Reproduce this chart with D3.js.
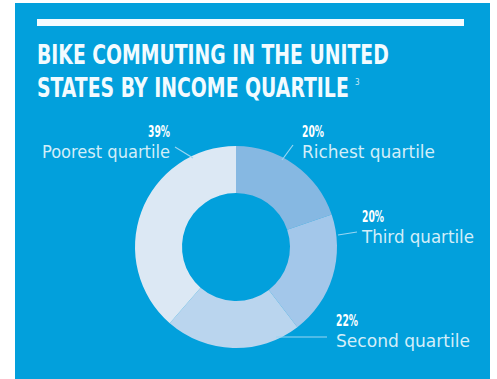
<!DOCTYPE html>
<html>
<head>
<meta charset="utf-8">
<script src="https://cdn.jsdelivr.net/npm/d3@7"></script>
<style>
    body { margin: 0; background: #fff; }
    svg text { font-family: "DejaVu Sans Condensed", "Liberation Sans Narrow", sans-serif; }
</style>
</head>
<body>
<svg id="chart" width="497" height="379"></svg>
<script>
// data
const quartiles = ["Richest quartile", "Third quartile", "Second quartile", "Poorest quartile"];
const shares = [20, 20, 22, 39];
const sliceColors = ["#86b8e2", "#a3c7ea", "#bad5ee", "#dce8f4"];
const titleLines = ["BIKE COMMUTING IN THE UNITED", "STATES BY INCOME QUARTILE"];
const footnote = "3";

// label layout (leader line + text anchor), same order as quartiles
const labelLayout = [
    { line: [[282, 160], [293, 145]], x: 302, anchor: "start", nameY: 158, nameW: 133 },
    { line: [[338, 235], [357, 232]], x: 362, anchor: "start", nameY: 243, nameW: 112 },
    { line: [[276, 337], [327, 337]], x: 336, anchor: "start", nameY: 347, nameW: 134 },
    { line: [[193, 158], [175, 147]], x: 170, anchor: "end", nameY: 158, nameW: 128 }
];

const svg = d3.select("#chart");
const cx = 236, cy = 247, outerR = 101, innerR = 54;

// blue panel
svg.append("rect")
    .attr("x", 15).attr("y", 3)
    .attr("width", 475).attr("height", 376)
    .attr("fill", "#02a0dc");

// white rule above the title
svg.append("rect")
    .attr("x", 37).attr("y", 19)
    .attr("width", 427).attr("height", 7)
    .attr("fill", "#f4fbff");

// title: squeeze each line horizontally to the reference width
const titleY = [64, 97];
const titleW = [352, 312];
titleLines.forEach((t, i) => {
    const txt = svg.append("text")
        .attr("font-size", 26)
        .attr("font-weight", "bold")
        .attr("fill", "#f2fbff")
        .text(t);
    const natural = txt.node().getComputedTextLength();
    txt.attr("transform", `translate(37,${titleY[i]}) scale(${titleW[i] / natural},1)`);
});
svg.append("text")
    .attr("x", 37 + titleW[1] + 6)
    .attr("y", 85)
    .attr("font-size", 8)
    .attr("fill", "#cdeaf7")
    .text(footnote);

// donut
const pie = d3.pie().sort(null).value(d => d);
const arc = d3.arc().innerRadius(innerR).outerRadius(outerR);

const g = svg.append("g").attr("transform", `translate(${cx},${cy})`);
g.selectAll(".slice")
    .data(pie(shares))
    .enter().append("path")
    .attr("class", "slice")
    .attr("d", arc)
    .attr("fill", (d, i) => sliceColors[i]);

// labels: percentage line + name line in one text
labelLayout.forEach((l, i) => {
    svg.append("path")
        .attr("d", d3.line()(l.line))
        .attr("stroke", "#9ad6f2")
        .attr("stroke-width", 1.2)
        .attr("fill", "none");

    const txt = svg.append("text")
        .attr("x", l.x)
        .attr("y", l.nameY - 21)
        .attr("text-anchor", l.anchor);

    txt.append("tspan")
        .attr("x", l.x)
        .attr("font-size", 15)
        .attr("font-weight", "bold")
        .attr("fill", "#ffffff")
        .attr("textLength", 22)
        .attr("lengthAdjust", "spacingAndGlyphs")
        .text(shares[i] + "%");

    txt.append("tspan")
        .attr("x", l.x)
        .attr("dy", 21)
        .attr("font-size", 17)
        .attr("fill", "#d3eef9")
        .attr("textLength", l.nameW)
        .attr("lengthAdjust", "spacingAndGlyphs")
        .text(quartiles[i]);
});
</script>
</body>
</html>
